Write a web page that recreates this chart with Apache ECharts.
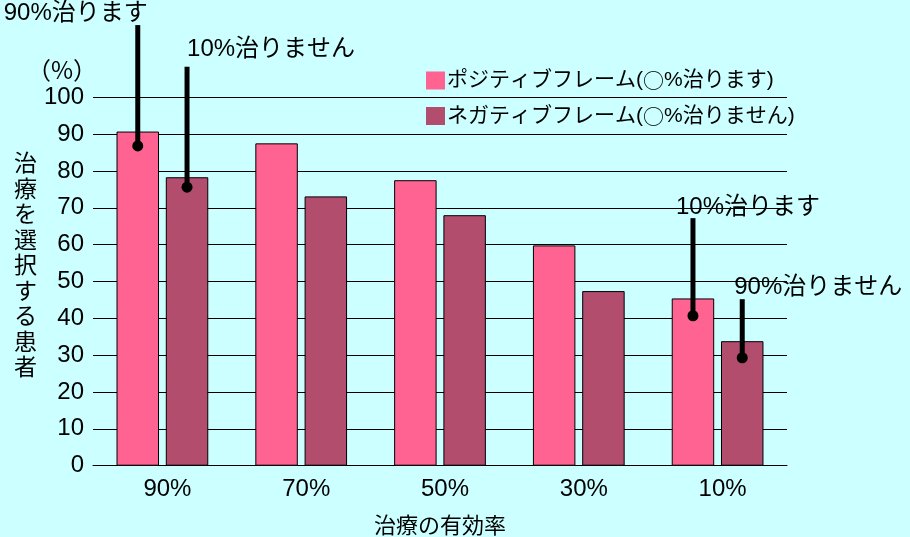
<!DOCTYPE html>
<html>
<head>
<meta charset="utf-8">
<script src="https://cdn.jsdelivr.net/npm/echarts@6/dist/echarts.min.js"></script>
<style>html,body{margin:0;padding:0;background:#CCFFFF;}#c{width:910px;height:537px;}</style>
</head>
<body>
<div id="c"></div>
<script>
const categories = ['90%', '70%', '50%', '30%', '10%'];
const positiveFrame = [90.7, 87.5, 77.5, 59.8, 45.4];
const negativeFrame = [78.3, 73.1, 68.0, 47.4, 33.8];
const seriesNames = ['ポジティブフレーム(○%治ります)', 'ネガティブフレーム(○%治りません)'];
const yMin = 0, yMax = 100, yStep = 10;

// annotations: category index, which bar (0 positive / 1 negative), dot value, line-top value, text
const annCategory = [0, 0, 4, 4];
const annBar = [0, 1, 0, 1];
const annDot = [86.8, 75.6, 40.7, 29.3];
const annTop = [119.6, 108.3, 67.2, 45.2];
const annText = ['90%治ります', '10%治りません', '10%治ります', '90%治りません'];
// label placement relative to the line top (style only)
const annDx = [-134, 0, -17, -8];
const annDy = [0, -5, 1, 0];

const FONT = '"Liberation Sans", Arial, "Noto Sans CJK JP", sans-serif';
const CJK = '"Noto Sans CJK JP", sans-serif';
const BAR_W = 30.6, BAR_GAP = 16; // percent

const annData = annCategory.map((c, i) => [c, annDot[i], annTop[i], annBar[i], i]);

function legendFmt(name) {
  return name.split('○').join('{c|○}');
}

const chart = echarts.init(document.getElementById('c'));
chart.setOption({
  backgroundColor: '#CCFFFF',
  animation: false,
  textStyle: { fontFamily: FONT, color: '#000' },
  grid: { left: 93, right: 123, top: 97.3, bottom: 71.3, containLabel: false, outerBoundsMode: 'none' },
  legend: {
    orient: 'vertical',
    left: 421, top: 65,
    itemWidth: 19, itemHeight: 18, itemGap: 14.5,
    icon: 'rect',
    itemStyle: { borderWidth: 0 },
    formatter: legendFmt,
    textStyle: {
      fontSize: 21, lineHeight: 18, color: '#000', fontFamily: FONT, padding: [0, 0, 0, -3],
      rich: { c: { fontSize: 21, lineHeight: 18, fontFamily: CJK, color: '#000' } }
    },
    data: seriesNames
  },
  graphic: [
    { type: 'text', left: 27, top: 58, style: { text: '（%）', fontSize: 24, fill: '#000', fontFamily: CJK } },
    { type: 'text', left: 14, top: 152, style: { text: '治\n療\nを\n選\n択\nす\nる\n患\n者', fontSize: 23, lineHeight: 25.5, fill: '#000', fontFamily: FONT } }
  ],
  xAxis: {
    type: 'category',
    data: categories,
    axisLine: { show: true, lineStyle: { color: '#000', width: 1 } },
    axisTick: { show: false },
    axisLabel: { fontSize: 24, color: '#000', margin: 12, fontFamily: FONT, padding: [0, 0, 0, 10] },
    name: '治療の有効率',
    nameLocation: 'middle',
    nameGap: 50,
    nameTextStyle: { fontSize: 22, color: '#000', fontFamily: FONT }
  },
  yAxis: {
    type: 'value',
    min: yMin, max: yMax, interval: yStep,
    axisLine: { show: false },
    axisTick: { show: false },
    axisLabel: { fontSize: 24, color: '#000', margin: 9, fontFamily: FONT },
    splitLine: { show: true, lineStyle: { color: '#000', width: 1 } }
  },
  series: [
    {
      name: seriesNames[0], type: 'bar', data: positiveFrame,
      barWidth: BAR_W + '%', barGap: BAR_GAP + '%',
      itemStyle: { color: '#FF6392', borderColor: '#000', borderWidth: 1 }
    },
    {
      name: seriesNames[1], type: 'bar', data: negativeFrame,
      barWidth: BAR_W + '%', barGap: BAR_GAP + '%',
      itemStyle: { color: '#B24D6E', borderColor: '#000', borderWidth: 1 }
    },
    {
      type: 'custom',
      data: annData,
      clip: false,
      z: 10,
      silent: true,
      renderItem: function (params, api) {
        const cat = api.value(0), dot = api.value(1), top = api.value(2), b = api.value(3), i = api.value(4);
        const band = api.size([1, 0])[0];
        const w = band * BAR_W / 100;
        const g = w * BAR_GAP / 100;
        const off = (b === 0 ? -1 : 1) * (w + g) / 2;
        const p1 = api.coord([cat, dot]);
        const p2 = api.coord([cat, top]);
        const x = p1[0] + off;
        return {
          type: 'group',
          children: [
            { type: 'line', shape: { x1: x, y1: p1[1], x2: x, y2: p2[1] }, style: { stroke: '#000', lineWidth: 5 } },
            { type: 'circle', shape: { cx: x, cy: p1[1], r: 5.5 }, style: { fill: '#000' } },
            { type: 'text', style: { text: annText[i], x: x + annDx[i], y: p2[1] + annDy[i], fill: '#000', fontSize: 24, fontFamily: FONT, align: 'left', verticalAlign: 'bottom', textAlign: 'left', textVerticalAlign: 'bottom' } }
          ]
        };
      }
    }
  ]
});
</script>
</body>
</html>
